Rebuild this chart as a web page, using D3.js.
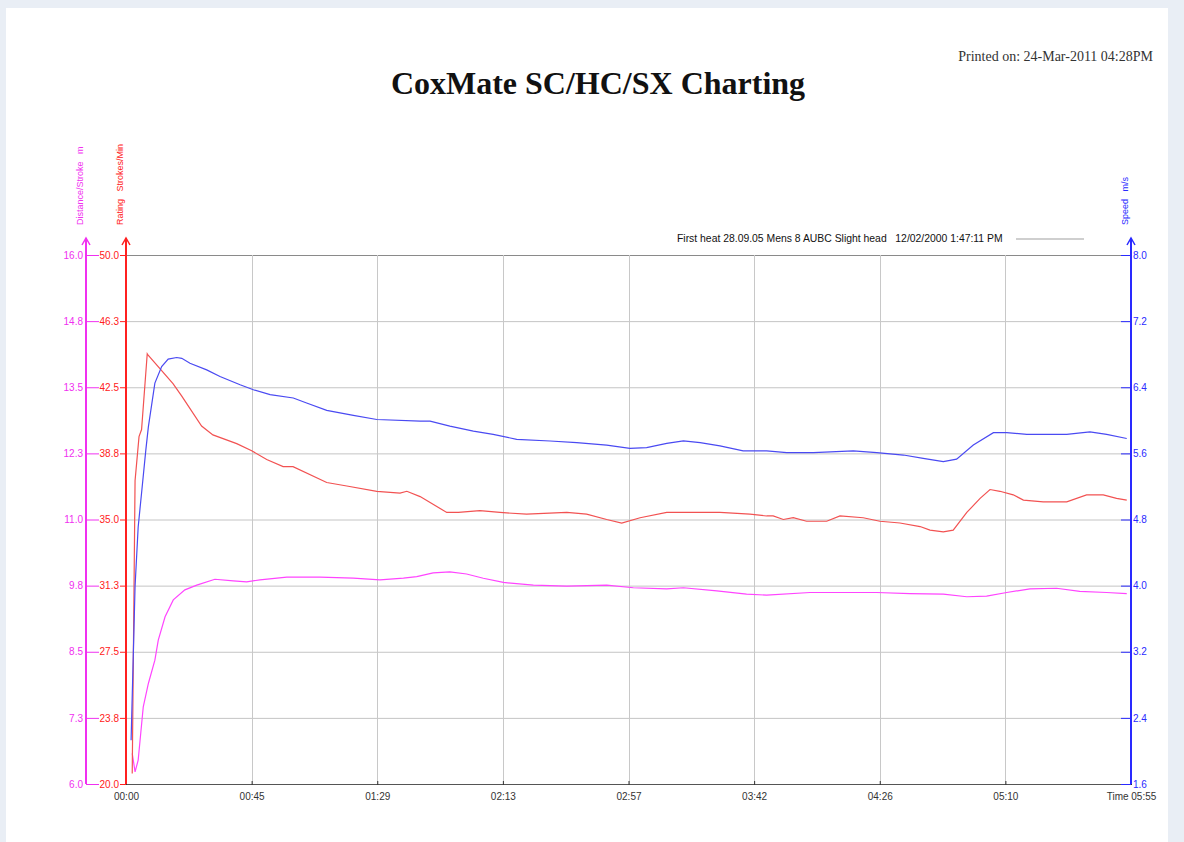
<!DOCTYPE html>
<html><head><meta charset="utf-8">
<script src="https://cdn.jsdelivr.net/npm/d3@7"></script>
<style>
html,body{margin:0;padding:0;background:#e9eef5;}
svg{display:block;}
text{font-family:"Liberation Sans",Arial,sans-serif;white-space:pre;}
</style></head>
<body>
<svg id="c" width="1184" height="842"></svg>
<script>
// ---- data ----
const timeTickValues = [0, 44.375, 88.75, 133.125, 177.5, 221.875, 266.25, 310.625, 355];
const timeTickLabels = ["00:00","00:45","01:29","02:13","02:57","03:42","04:26","05:10","Time 05:55"];
const ratingTickValues = [20, 23.75, 27.5, 31.25, 35, 38.75, 42.5, 46.25, 50];
const ratingTickLabels = ["20.0","23.8","27.5","31.3","35.0","38.8","42.5","46.3","50.0"];
const distTickValues = [6, 7.25, 8.5, 9.75, 11, 12.25, 13.5, 14.75, 16];
const distTickLabels = ["6.0","7.3","8.5","9.8","11.0","12.3","13.5","14.8","16.0"];
const speedTickValues = [1.6, 2.4, 3.2, 4.0, 4.8, 5.6, 6.4, 7.2, 8.0];
const speedTickLabels = ["1.6","2.4","3.2","4.0","4.8","5.6","6.4","7.2","8.0"];

// rating (strokes/min): [time s, value]
const ratingSeries = [[2.2,20.6],[3.2,37.2],[4.6,39.7],[5.5,40.1],[7.5,44.4],[7.9,44.3],[16.6,42.7],[19.7,42.0],[26.7,40.3],[30.7,39.8],[39.1,39.3],[44.4,38.9],[49.7,38.4],[55.5,38.0],[59.0,38.0],[70.9,37.1],[78.0,36.9],[88.6,36.6],[96.8,36.5],[99.2,36.6],[103.9,36.3],[113.3,35.4],[117.4,35.4],[125.0,35.5],[132.1,35.4],[141.5,35.3],[155.7,35.4],[162.7,35.3],[169.8,35.0],[175.1,34.8],[181.6,35.1],[191.0,35.4],[202.8,35.4],[209.8,35.4],[220.4,35.3],[226.3,35.2],[228.6,35.2],[232.2,35.0],[235.7,35.1],[240.4,34.9],[247.5,34.9],[252.2,35.2],[260.4,35.1],[266.3,34.9],[273.4,34.8],[280.5,34.6],[284.0,34.4],[288.7,34.3],[292.2,34.4],[297.0,35.4],[301.7,36.2],[305.2,36.7],[308.7,36.6],[313.4,36.4],[317.0,36.1],[324.0,36.0],[332.3,36.0],[339.3,36.4],[345.2,36.4],[349.9,36.2],[353.5,36.1]];

// speed (m/s)
const speedSeries = [[1.8,2.13],[3.2,3.99],[4.3,4.71],[5.5,5.12],[7.0,5.64],[7.9,5.92],[10.2,6.45],[12.6,6.65],[14.9,6.74],[17.9,6.76],[19.7,6.75],[22.6,6.69],[28.5,6.61],[33.2,6.53],[40.3,6.43],[45.0,6.37],[50.9,6.31],[59.1,6.27],[63.8,6.21],[70.9,6.12],[80.3,6.06],[88.6,6.01],[103.9,5.99],[107.4,5.99],[114.4,5.93],[122.7,5.87],[129.7,5.83],[138.0,5.77],[149.8,5.75],[159.2,5.73],[169.8,5.70],[178.0,5.66],[183.9,5.67],[191.0,5.72],[196.9,5.75],[202.8,5.73],[209.8,5.69],[218.0,5.63],[226.3,5.63],[233.4,5.61],[242.8,5.61],[256.9,5.63],[265.2,5.61],[274.6,5.58],[281.6,5.54],[288.7,5.50],[293.4,5.53],[299.3,5.70],[306.4,5.85],[311.1,5.85],[318.2,5.83],[332.3,5.83],[340.5,5.86],[346.4,5.83],[353.5,5.78]];

// distance per stroke (m)
const distSeries = [[2.2,6.58],[3.2,6.23],[4.3,6.45],[6.1,7.46],[7.9,7.90],[10.2,8.34],[11.4,8.72],[13.8,9.16],[16.7,9.48],[20.8,9.67],[25.0,9.76],[31.4,9.87],[37.9,9.84],[42.6,9.82],[47.3,9.86],[56.8,9.91],[68.5,9.91],[80.3,9.89],[89.7,9.86],[98.0,9.89],[102.7,9.92],[108.5,9.99],[114.4,10.01],[120.3,9.97],[126.2,9.89],[133.3,9.81],[143.9,9.76],[155.7,9.74],[169.8,9.76],[179.2,9.71],[191.0,9.69],[196.9,9.71],[208.7,9.65],[219.2,9.59],[226.3,9.57],[241.6,9.62],[253.4,9.62],[265.2,9.62],[276.9,9.60],[288.7,9.59],[297.0,9.54],[304.0,9.55],[311.1,9.62],[319.3,9.69],[328.7,9.70],[336.9,9.64],[346.4,9.62],[353.5,9.60]];

const titleText = "CoxMate SC/HC/SX Charting";
const printedText = "Printed on: 24-Mar-2011 04:28PM";
const legendText = "First heat 28.09.05 Mens 8 AUBC Slight head   12/02/2000 1:47:11 PM";

// ---- layout ----
const L = 126, R = 1131, T = 255, B = 784;
const cRed = "#ff2020", cBlue = "#2a2aff", cMag = "#f030f0";
const lRed = "#f25252", lBlue = "#4a4af2", lMag = "#ff44ff";

const svg = d3.select("#c");
svg.append("rect").attr("x",6).attr("y",8).attr("width",1162).attr("height",834).attr("fill","#fff");

const x = d3.scaleLinear().domain([0,355]).range([L,R]);
const yR = d3.scaleLinear().domain([20,50]).range([B,T]);
const yS = d3.scaleLinear().domain([1.6,8.0]).range([B,T]);
const yD = d3.scaleLinear().domain([6,16]).range([B,T]);

// title
svg.append("text").attr("x",598).attr("y",94).attr("text-anchor","middle")
  .style("font-family","'Liberation Serif','Times New Roman',serif").style("font-weight","bold")
  .style("font-size","32px").attr("fill","#111").text(titleText);
svg.append("text").attr("x",1153).attr("y",61).attr("text-anchor","end")
  .style("font-family","'Liberation Serif','Times New Roman',serif")
  .style("font-size","14px").attr("fill","#333").text(printedText);

// grid
const g = svg.append("g");
g.selectAll("line.h").data(ratingTickValues.slice(0,-1)).join("line")
  .attr("x1",L).attr("x2",R).attr("y1",d=>yR(d)+0.5).attr("y2",d=>yR(d)+0.5)
  .attr("stroke","#c4c4c4").attr("stroke-width",1);
g.append("line").attr("x1",L).attr("x2",R).attr("y1",yR(50)+0.5).attr("y2",yR(50)+0.5)
  .attr("stroke","#8a8a8a").attr("stroke-width",1.2);
g.selectAll("line.v").data(timeTickValues.slice(1,-1)).join("line")
  .attr("x1",d=>Math.round(x(d))+0.5).attr("x2",d=>Math.round(x(d))+0.5).attr("y1",T).attr("y2",B)
  .attr("stroke","#c8c8c8").attr("stroke-width",1);

// bottom time axis
const xAxis = d3.axisBottom(x).tickValues(timeTickValues).tickFormat((d,i)=>timeTickLabels[i])
  .tickSize(4).tickPadding(5).tickSizeOuter(0);
const xa = svg.append("g").attr("transform",`translate(0,${B})`).call(xAxis);
xa.select(".domain").attr("stroke","#555");
xa.selectAll(".tick line").attr("stroke","#333").attr("y1",-3).attr("y2",1);
xa.selectAll(".tick text").attr("fill","#333").style("font-size","10px").style("font-family","'Liberation Sans',Arial,sans-serif");

// rating axis (red)
const rAxis = d3.axisLeft(yR).tickValues(ratingTickValues).tickFormat((d,i)=>ratingTickLabels[i])
  .tickSize(6).tickPadding(1).tickSizeOuter(0);
const ra = svg.append("g").attr("transform",`translate(${L},0)`).call(rAxis);
ra.select(".domain").remove();
ra.selectAll(".tick line").attr("stroke",cRed);
ra.selectAll(".tick text").attr("fill",cRed).style("font-size","10px").style("font-family","'Liberation Sans',Arial,sans-serif");

// distance axis (magenta)
const DX = 86;
const dAxis = d3.axisLeft(yD).tickValues(distTickValues).tickFormat((d,i)=>distTickLabels[i])
  .tickSize(-13).tickPadding(3).tickSizeOuter(0);
const da = svg.append("g").attr("transform",`translate(${DX},0)`).call(dAxis);
da.select(".domain").remove();
da.selectAll(".tick line").attr("stroke",cMag);
da.selectAll(".tick text").attr("fill",cMag).style("font-size","10px").style("font-family","'Liberation Sans',Arial,sans-serif");

// speed axis (blue)
const sAxis = d3.axisRight(yS).tickValues(speedTickValues).tickFormat((d,i)=>speedTickLabels[i])
  .tickSize(-10).tickPadding(2).tickSizeOuter(0);
const sa = svg.append("g").attr("transform",`translate(${R},0)`).call(sAxis);
sa.select(".domain").remove();
sa.selectAll(".tick line").attr("stroke",cBlue);
sa.selectAll(".tick text").attr("fill",cBlue).style("font-size","10px").style("font-family","'Liberation Sans',Arial,sans-serif");

// vertical axis lines with arrows
function vAxis(ax,color,w){
  svg.append("line").attr("x1",ax).attr("x2",ax).attr("y1",238).attr("y2",B).attr("stroke",color).attr("stroke-width",w);
  svg.append("path").attr("d",`M${ax-4},${245}L${ax},${238}L${ax+4},${245}`).attr("fill","none").attr("stroke",color).attr("stroke-width",1.5);
}
vAxis(DX,cMag,2);
vAxis(L,cRed,2);
vAxis(R,cBlue,2);

// axis titles (rotated)
function vTitle(ax,color,txt){
  svg.append("text").attr("transform",`translate(${ax},225) rotate(-90)`).attr("text-anchor","start")
    .attr("fill",color).style("font-size","9px").text(txt);
}
vTitle(83,cMag,"Distance/Stroke   m");
vTitle(123,cRed,"Rating   Strokes/Min");
vTitle(1128,cBlue,"Speed   m/s");

// legend
svg.append("text").attr("x",677).attr("y",242).attr("fill","#111").style("font-size","10.4px").text(legendText);
svg.append("line").attr("x1",1016).attr("x2",1084).attr("y1",239).attr("y2",239).attr("stroke","#a0a0a0").attr("stroke-width",1.2);

// series lines
const line = (ys)=>d3.line().x(d=>x(d[0])).y(d=>ys(d[1]));
svg.append("path").datum(distSeries).attr("d",line(yD)).attr("fill","none").attr("stroke",lMag).attr("stroke-width",1.2);
svg.append("path").datum(ratingSeries).attr("d",line(yR)).attr("fill","none").attr("stroke",lRed).attr("stroke-width",1.2);
svg.append("path").datum(speedSeries).attr("d",line(yS)).attr("fill","none").attr("stroke",lBlue).attr("stroke-width",1.2);
</script>
</body></html>
